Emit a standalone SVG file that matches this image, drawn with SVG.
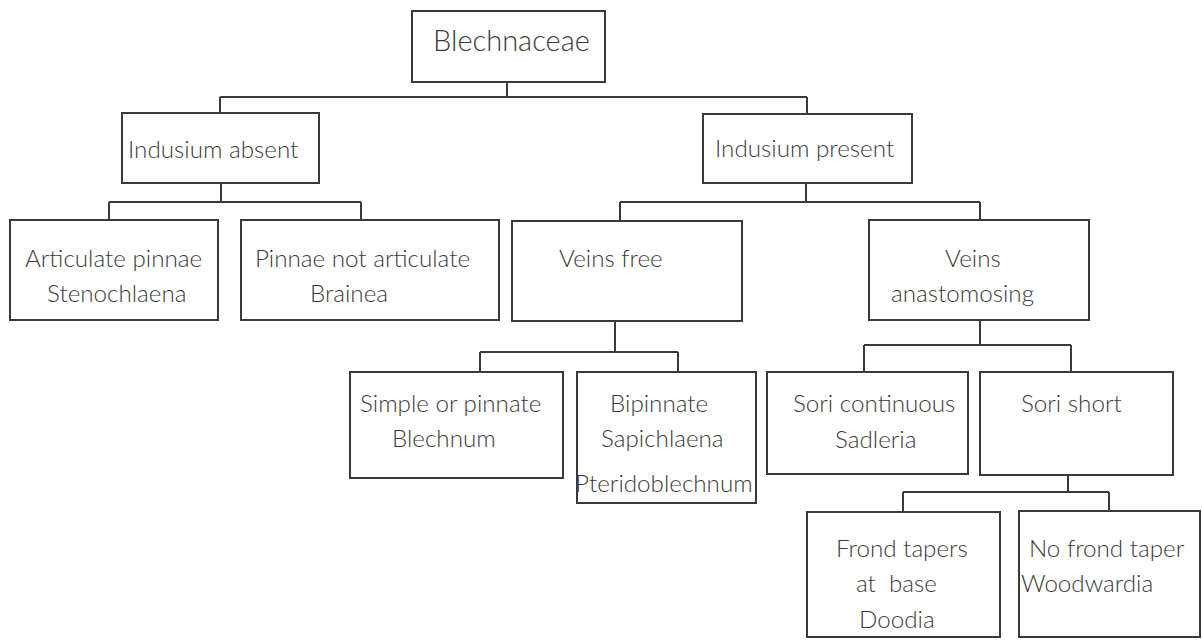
<svg xmlns="http://www.w3.org/2000/svg" width="1202" height="642" viewBox="0 0 1202 642">
<style>
  .box { fill: #ffffff; stroke: #3a3a3a; stroke-width: 2; }
  .conn { fill: none; stroke: #3a3a3a; stroke-width: 2; }
  text { font-family: Lato, "Open Sans", "DejaVu Sans", sans-serif; font-size: 24.2px; font-weight: 300; fill: #3a3a3a; white-space: pre; }
  .title { font-size: 29px; }
</style>
<rect x="0" y="0" width="1202" height="642" fill="#ffffff"/>
<g id="connectors">
  <path class="conn" d="M507 82 V97 M220 97 H807 M220 97 V113 M807 97 V114"/>
  <path class="conn" d="M221 183 V202 M109 202 H361 M109 202 V220 M361 202 V220"/>
  <path class="conn" d="M806 183 V202 M620 202 H980 M620 202 V221 M980 202 V220"/>
  <path class="conn" d="M615 321 V352 M480 352 H678 M480 352 V372 M678 352 V372"/>
  <path class="conn" d="M980 320 V345 M864 345 H1071 M864 345 V372 M1071 345 V372"/>
  <path class="conn" d="M1068 475 V492 M903 492 H1109 M903 492 V512 M1109 492 V511"/>
</g>
<g id="blechnaceae">
  <rect class="box" x="412" y="11" width="193" height="71"/>
  <text class="title" x="433" y="51">Blechnaceae</text>
</g>
<g id="indusium-absent">
  <rect class="box" x="122" y="113" width="197" height="70"/>
  <text x="128" y="158">Indusium absent</text>
</g>
<g id="indusium-present">
  <rect class="box" x="703" y="114" width="209" height="69"/>
  <text x="715" y="157">Indusium present</text>
</g>
<g id="articulate-pinnae">
  <rect class="box" x="10" y="220" width="208" height="100"/>
  <text x="25" y="267">Articulate pinnae</text>
  <text x="47" y="302">Stenochlaena</text>
</g>
<g id="pinnae-not-articulate">
  <rect class="box" x="241" y="220" width="258" height="100"/>
  <text x="255" y="267">Pinnae not articulate</text>
  <text x="310" y="302">Brainea</text>
</g>
<g id="veins-free">
  <rect class="box" x="512" y="221" width="230" height="100"/>
  <text x="559" y="267">Veins free</text>
</g>
<g id="veins-anastomosing">
  <rect class="box" x="869" y="220" width="220" height="100"/>
  <text x="945" y="267">Veins</text>
  <text x="891" y="302">anastomosing</text>
</g>
<g id="simple-or-pinnate">
  <rect class="box" x="350" y="372" width="213" height="106"/>
  <text x="360" y="412">Simple or pinnate</text>
  <text x="392" y="447">Blechnum</text>
</g>
<g id="bipinnate">
  <rect class="box" x="577" y="372" width="179" height="131"/>
  <text x="610" y="412">Bipinnate</text>
  <text x="601" y="447">Sapichlaena</text>
  <text x="575" y="492">Pteridoblechnum</text>
</g>
<g id="sori-continuous">
  <rect class="box" x="767" y="372" width="201" height="102"/>
  <text x="793" y="412">Sori continuous</text>
  <text x="835" y="448">Sadleria</text>
</g>
<g id="sori-short">
  <rect class="box" x="980" y="372" width="193" height="103"/>
  <text x="1021" y="412">Sori short</text>
</g>
<g id="frond-tapers">
  <rect class="box" x="807" y="512" width="193" height="125"/>
  <text x="836" y="557">Frond tapers</text>
  <text x="856" y="592">at  base</text>
  <text x="859" y="628">Doodia</text>
</g>
<g id="no-frond-taper">
  <rect class="box" x="1019" y="511" width="181" height="126"/>
  <text x="1029" y="557">No frond taper</text>
  <text x="1021" y="592">Woodwardia</text>
</g>
</svg>
